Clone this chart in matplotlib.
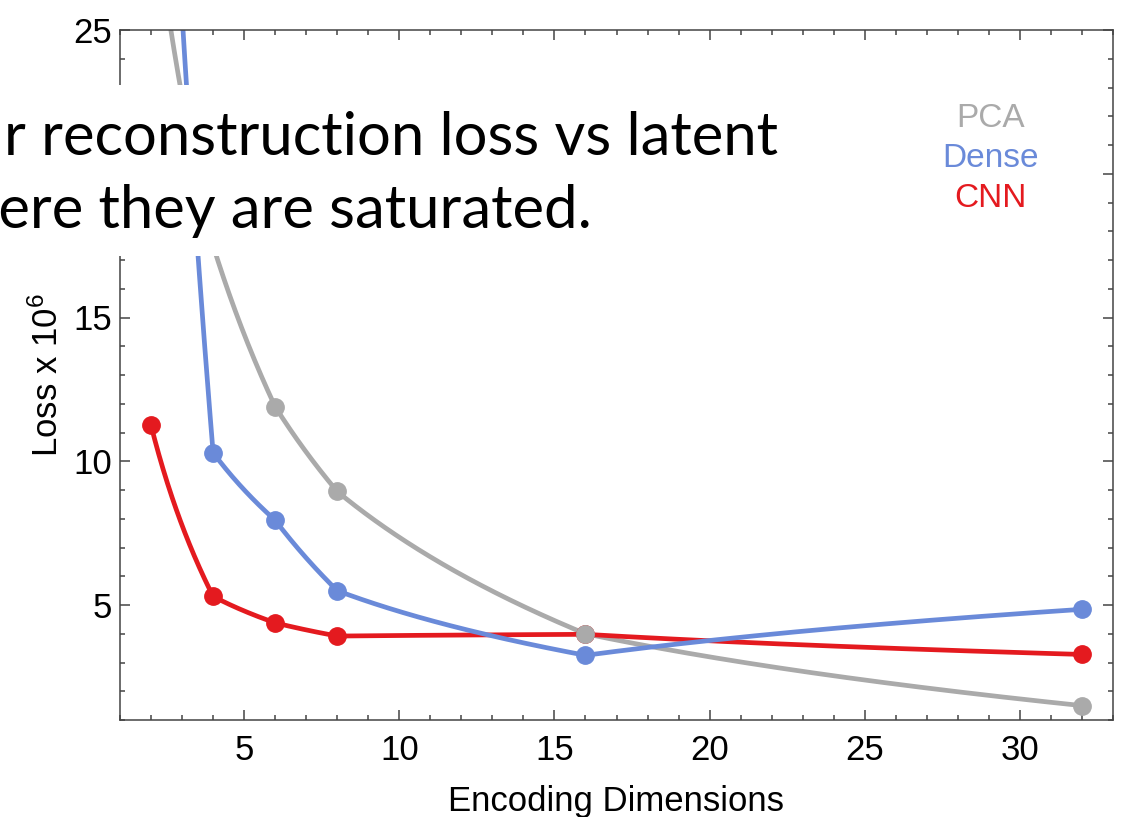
import numpy as np
import matplotlib
matplotlib.use("Agg")
import matplotlib.pyplot as plt
from matplotlib.patches import Rectangle
from matplotlib.ticker import MultipleLocator, FuncFormatter

# encoding dimensions and loss (x 1e-6)
dims = [2, 4, 6, 8, 16, 32]
pca = [30.0, 17.5, 11.9, 8.95, 4.0, 1.5]
dense = [47.0, 10.3, 7.95, 5.5, 3.25, 4.85]
cnn = [11.25, 5.3, 4.38, 3.92, 3.98, 3.28]

names = ["PCA", "Dense", "CNN"]
colors = {"PCA": "#aaaaaa", "Dense": "#6a8ad9", "CNN": "#e41a1f"}
series = {"PCA": pca, "Dense": dense, "CNN": cnn}

plt.rcParams["font.family"] = "Liberation Sans"

fig = plt.figure(figsize=(11.23, 8.17), dpi=100)
ax = fig.add_axes([120 / 1123, 1 - 720 / 817, (1113 - 120) / 1123, (720 - 30) / 817])


def joined(x, y, n=60):
    # segments drawn straight in log(x), as the original curves bend that way
    xs, ys = [], []
    for i in range(len(x) - 1):
        t = np.linspace(0, 1, n)
        xs.append(x[i] * (x[i + 1] / x[i]) ** t)
        ys.append(y[i] + (y[i + 1] - y[i]) * t)
    return np.concatenate(xs), np.concatenate(ys)


for k, name in enumerate(["PCA", "CNN", "Dense"]):
    cx, cy = joined(dims, series[name])
    ax.plot(cx, cy, color=colors[name], lw=3.4, zorder=2 + k * 0.1, solid_capstyle="round")
for k, name in enumerate(["CNN", "Dense", "PCA"]):
    ax.plot(dims, series[name], "o", color=colors[name], ms=12.5, zorder=3 + k * 0.1)

ax.set_xlim(1, 33)
ax.set_ylim(1, 25)
ax.xaxis.set_major_locator(MultipleLocator(5))
ax.xaxis.set_minor_locator(MultipleLocator(1))
ax.yaxis.set_major_locator(MultipleLocator(5))
ax.yaxis.set_minor_locator(MultipleLocator(1))
# the 20 label sits under the caption box in the original, so leave it blank
ax.yaxis.set_major_formatter(FuncFormatter(lambda v, p: "" if v == 20 else f"{v:g}"))
ax.tick_params(which="both", direction="in", top=True, right=True, color="#444444", width=1.1)
ax.tick_params(which="major", length=7, labelsize=25)
ax.tick_params(axis="x", which="major", pad=10)
ax.tick_params(axis="y", which="major", pad=6)
ax.tick_params(which="minor", length=3.5)
for s in ax.spines.values():
    s.set_color("#444444")
    s.set_linewidth(1.1)

ax.set_xlabel("Encoding Dimensions", fontsize=25, labelpad=13)
ax.set_ylabel(r"Loss x $\mathregular{10^6}$", fontsize=25, labelpad=6)

for i, name in enumerate(names):
    ax.text(0.877, 0.86 - i * 0.058, name, transform=ax.transAxes, color=colors[name],
            fontsize=24, ha="center", va="baseline")

# slide caption laid over the chart
fig.patches.append(Rectangle((0, 1 - 256 / 817), 880 / 1123, 171 / 817, transform=fig.transFigure,
                             facecolor="white", edgecolor="none", zorder=5))
fig.text(4 / 1123, 1 - 155 / 817, "r reconstruction loss vs latent", fontsize=43,
         family="Lato", ha="left", va="baseline", zorder=6)
fig.text(592 / 1123, 1 - 228 / 817, "here they are saturated.", fontsize=43,
         family="Lato", ha="right", va="baseline", zorder=6)

fig.savefig("out.png", dpi=100)
